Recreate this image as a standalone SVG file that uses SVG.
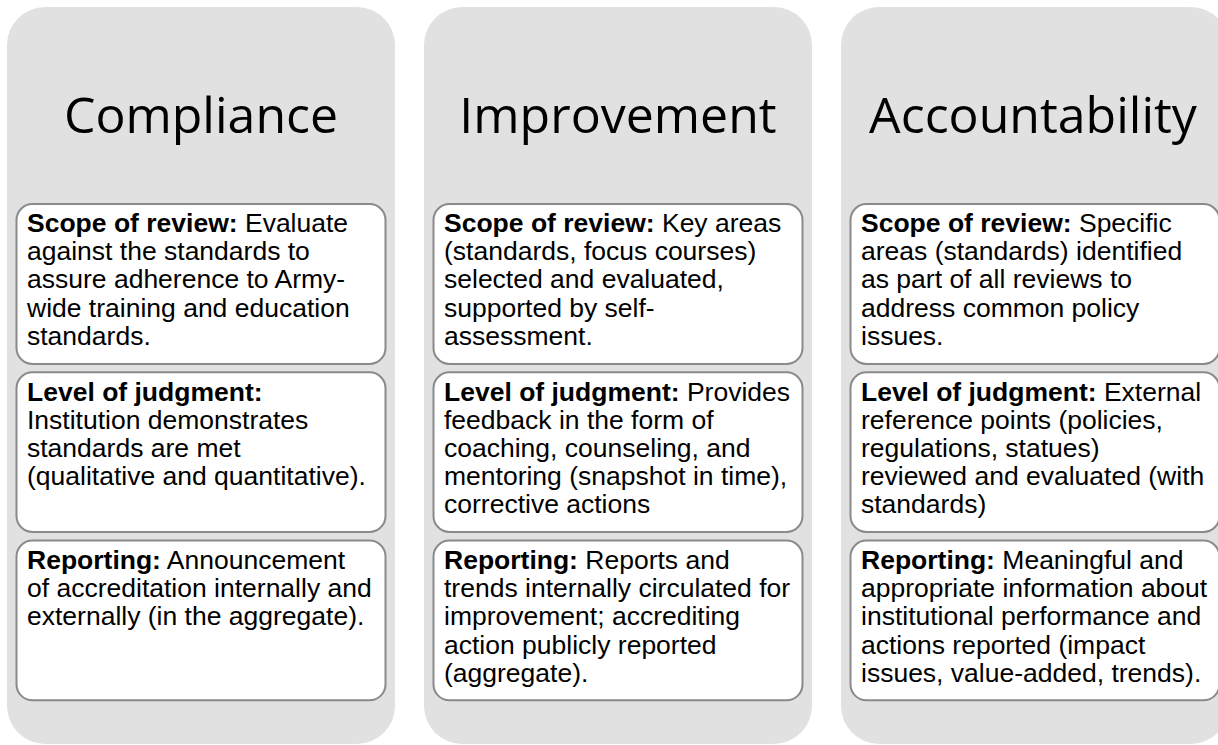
<svg xmlns="http://www.w3.org/2000/svg" width="1218" height="745" viewBox="0 0 1218 745">
  <style>
    .panel { fill: #e1e1e1; }
    .box { fill: #ffffff; stroke: #8a8a8a; stroke-width: 2; }
    .title { font-family: "Open Sans", "Liberation Sans", sans-serif; font-size: 50px; fill: #000000; text-anchor: middle; }
    .body { font-family: "Liberation Sans", Arial, sans-serif; font-size: 26.5px; fill: #000000; }
    .b { font-weight: bold; }
  </style>

  <!-- Column: Compliance -->
  <g id="compliance">
    <rect class="panel" x="7" y="7" width="388" height="737" rx="38" ry="38"/>
    <text class="title" x="201" y="133">Compliance</text>
    <g id="compliance-scope">
      <rect class="box" x="16.5" y="204" width="369" height="160" rx="16" ry="16"/>
      <text class="body" x="27" y="232">
        <tspan class="b">Scope of review:</tspan> Evaluate
        <tspan x="27" dy="28.2">against the standards to</tspan>
        <tspan x="27" dy="28.2">assure adherence to Army-</tspan>
        <tspan x="27" dy="28.2">wide training and education</tspan>
        <tspan x="27" dy="28.2">standards.</tspan>
      </text>
    </g>
    <g id="compliance-judgment">
      <rect class="box" x="16.5" y="372.3" width="369" height="159.7" rx="16" ry="16"/>
      <text class="body" x="27" y="400.5">
        <tspan class="b">Level of judgment:</tspan>
        <tspan x="27" dy="28.2">Institution demonstrates</tspan>
        <tspan x="27" dy="28.2">standards are met</tspan>
        <tspan x="27" dy="28.2">(qualitative and quantitative).</tspan>
      </text>
    </g>
    <g id="compliance-reporting">
      <rect class="box" x="16.5" y="540.6" width="369" height="159.7" rx="16" ry="16"/>
      <text class="body" x="27" y="569">
        <tspan class="b">Reporting:</tspan> Announcement
        <tspan x="27" dy="28.2">of accreditation internally and</tspan>
        <tspan x="27" dy="28.2">externally (in the aggregate).</tspan>
      </text>
    </g>
  </g>

  <!-- Column: Improvement -->
  <g id="improvement">
    <rect class="panel" x="424" y="7" width="388" height="737" rx="38" ry="38"/>
    <text class="title" x="618" y="133">Improvement</text>
    <g id="improvement-scope">
      <rect class="box" x="433.5" y="204" width="369" height="160" rx="16" ry="16"/>
      <text class="body" x="444" y="232">
        <tspan class="b">Scope of review:</tspan> Key areas
        <tspan x="444" dy="28.2">(standards, focus courses)</tspan>
        <tspan x="444" dy="28.2">selected and evaluated,</tspan>
        <tspan x="444" dy="28.2">supported by self-</tspan>
        <tspan x="444" dy="28.2">assessment.</tspan>
      </text>
    </g>
    <g id="improvement-judgment">
      <rect class="box" x="433.5" y="372.3" width="369" height="159.7" rx="16" ry="16"/>
      <text class="body" x="444" y="400.5">
        <tspan class="b">Level of judgment:</tspan> Provides
        <tspan x="444" dy="28.2">feedback in the form of</tspan>
        <tspan x="444" dy="28.2">coaching, counseling, and</tspan>
        <tspan x="444" dy="28.2">mentoring (snapshot in time),</tspan>
        <tspan x="444" dy="28.2">corrective actions</tspan>
      </text>
    </g>
    <g id="improvement-reporting">
      <rect class="box" x="433.5" y="540.6" width="369" height="159.7" rx="16" ry="16"/>
      <text class="body" x="444" y="569">
        <tspan class="b">Reporting:</tspan> Reports and
        <tspan x="444" dy="28.2">trends internally circulated for</tspan>
        <tspan x="444" dy="28.2">improvement; accrediting</tspan>
        <tspan x="444" dy="28.2">action publicly reported</tspan>
        <tspan x="444" dy="28.2">(aggregate).</tspan>
      </text>
    </g>
  </g>

  <!-- Column: Accountability -->
  <g id="accountability">
    <rect class="panel" x="841" y="7" width="388" height="737" rx="38" ry="38"/>
    <text class="title" x="1033" y="133">Accountability</text>
    <g id="accountability-scope">
      <rect class="box" x="850.5" y="204" width="369" height="160" rx="16" ry="16"/>
      <text class="body" x="861" y="232">
        <tspan class="b">Scope of review:</tspan> Specific
        <tspan x="861" dy="28.2">areas (standards) identified</tspan>
        <tspan x="861" dy="28.2">as part of all reviews to</tspan>
        <tspan x="861" dy="28.2">address common policy</tspan>
        <tspan x="861" dy="28.2">issues.</tspan>
      </text>
    </g>
    <g id="accountability-judgment">
      <rect class="box" x="850.5" y="372.3" width="369" height="159.7" rx="16" ry="16"/>
      <text class="body" x="861" y="400.5">
        <tspan class="b">Level of judgment:</tspan> External
        <tspan x="861" dy="28.2">reference points (policies,</tspan>
        <tspan x="861" dy="28.2">regulations, statues)</tspan>
        <tspan x="861" dy="28.2">reviewed and evaluated (with</tspan>
        <tspan x="861" dy="28.2">standards)</tspan>
      </text>
    </g>
    <g id="accountability-reporting">
      <rect class="box" x="850.5" y="540.6" width="369" height="159.7" rx="16" ry="16"/>
      <text class="body" x="861" y="569">
        <tspan class="b">Reporting:</tspan> Meaningful and
        <tspan x="861" dy="28.2">appropriate information about</tspan>
        <tspan x="861" dy="28.2">institutional performance and</tspan>
        <tspan x="861" dy="28.2">actions reported (impact</tspan>
        <tspan x="861" dy="28.2">issues, value-added, trends).</tspan>
      </text>
    </g>
  </g>
</svg>
